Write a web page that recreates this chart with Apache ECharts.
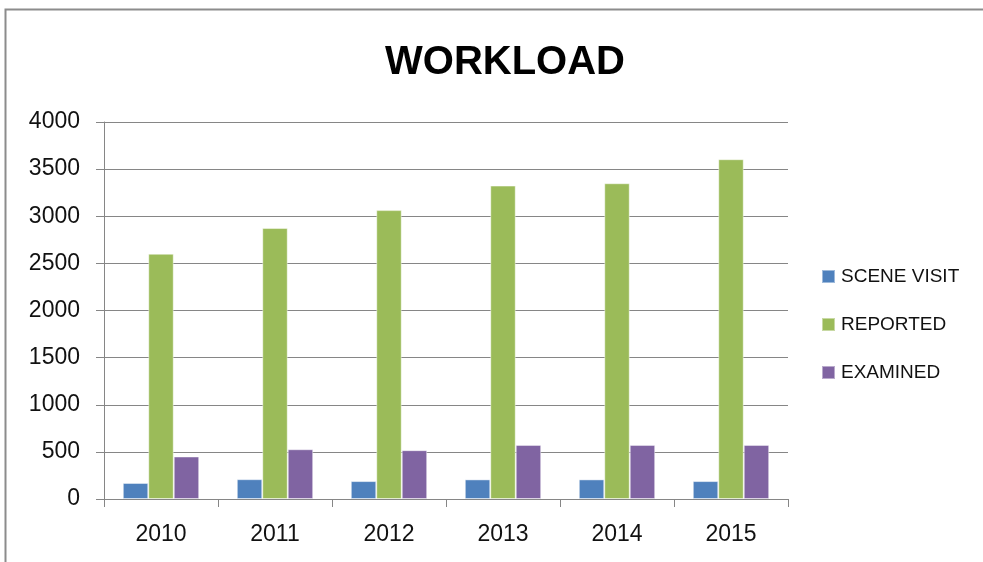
<!DOCTYPE html>
<html>
<head>
<meta charset="utf-8">
<script src="https://cdn.jsdelivr.net/npm/echarts@6/dist/echarts.min.js"></script>
<style>html,body{margin:0;padding:0;background:#fff;}#c{width:983px;height:562px;}</style>
</head>
<body>
<div id="c"></div>
<script>
const categories = ['2010', '2011', '2012', '2013', '2014', '2015'];
const sceneVisit = [170, 210, 190, 208, 208, 190];
const reported = [2602, 2875, 3065, 3325, 3350, 3605];
const examined = [451, 528, 518, 574, 574, 574];
const yTicks = [0, 500, 1000, 1500, 2000, 2500, 3000, 3500, 4000];

const FONT = 'Liberation Sans';
const chart = echarts.init(document.getElementById('c'), null, { renderer: 'canvas' });
chart.setOption({
  backgroundColor: '#fff',
  animation: false,
  title: {
    text: 'WORKLOAD',
    left: 500, top: 38, textAlign: 'center',
    textStyle: { fontFamily: FONT, fontWeight: 'bold', fontSize: 40, color: '#000' }
  },
  graphic: [{
    type: 'rect', silent: true,
    shape: { x: 5.5, y: 9.5, width: 1100, height: 700 },
    style: { fill: 'none', stroke: '#8c8c8c', lineWidth: 2 }
  }],
  legend: {
    orient: 'vertical', left: 816, top: 262,
    itemWidth: 13, itemHeight: 13, itemGap: 29,
    icon: 'rect',
    textStyle: { fontFamily: FONT, fontSize: 19, color: '#111', lineHeight: 19, padding: [0, 0, 0, 1] },
    data: ['SCENE VISIT', 'REPORTED', 'EXAMINED']
  },
  grid: { left: 104, right: 195, top: 122, bottom: 63, containLabel: false },
  xAxis: {
    type: 'category', data: categories,
    axisLine: { lineStyle: { color: '#868686', width: 1 } },
    axisTick: { show: true, length: 8, lineStyle: { color: '#868686' } },
    axisLabel: { fontFamily: FONT, fontSize: 23, color: '#111', margin: 24 }
  },
  yAxis: {
    type: 'value', min: 0, max: 4000, interval: 500,
    axisLine: { show: true, lineStyle: { color: '#868686', width: 1 } },
    axisTick: { show: true, length: 8, lineStyle: { color: '#868686' } },
    axisLabel: { fontFamily: FONT, fontSize: 23, color: '#111', margin: 24,
      formatter: v => yTicks.includes(v) ? String(v) : '' },
    splitLine: { lineStyle: { color: '#868686', width: 1 } }
  },
  series: [
    { name: 'SCENE VISIT', type: 'bar', data: sceneVisit, barGap: '0%', barCategoryGap: '33%',
      itemStyle: { color: '#4F81BD', borderColor: 'rgba(255,255,255,0.45)', borderWidth: 1 } },
    { name: 'REPORTED', type: 'bar', data: reported, barGap: '0%', barCategoryGap: '33%',
      itemStyle: { color: '#9BBB59', borderColor: 'rgba(255,255,255,0.45)', borderWidth: 1 } },
    { name: 'EXAMINED', type: 'bar', data: examined, barGap: '0%', barCategoryGap: '33%',
      itemStyle: { color: '#8064A2', borderColor: 'rgba(255,255,255,0.45)', borderWidth: 1 } }
  ]
});
</script>
</body>
</html>
